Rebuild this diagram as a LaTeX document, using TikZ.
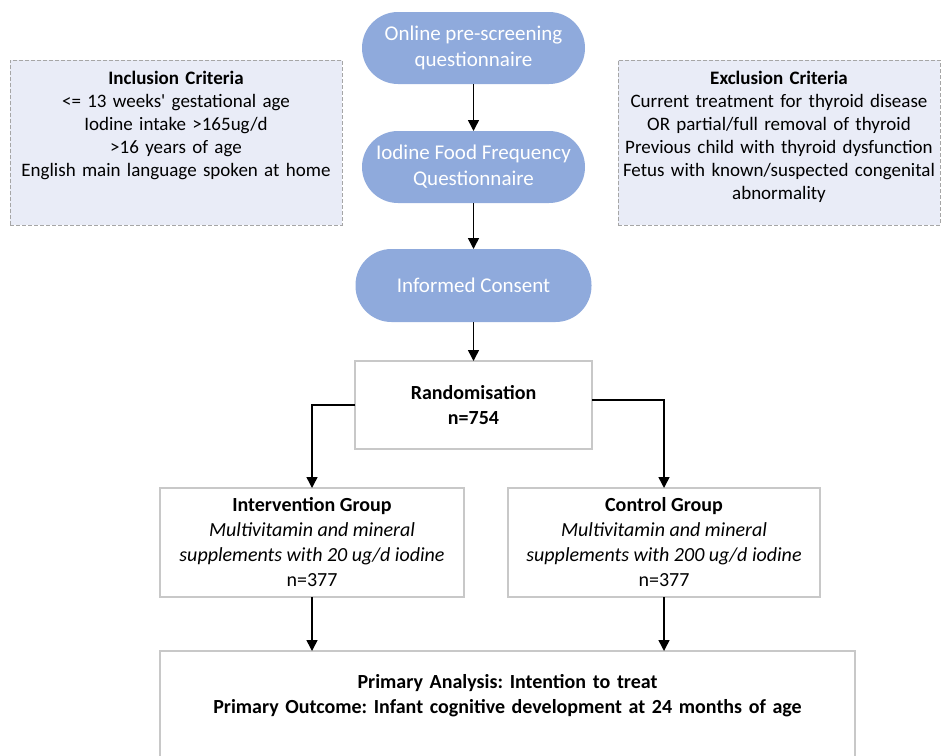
\documentclass[tikz,border=0pt]{standalone}
\usepackage{fontspec}
\setmainfont{Carlito}
\usepackage{xcolor}
\usetikzlibrary{arrows.meta,positioning}
\frenchspacing

\definecolor{pillblue}{HTML}{8FAADC}
\definecolor{critfill}{HTML}{E9ECF7}
\definecolor{critline}{HTML}{A6A6A6}
\definecolor{boxline}{HTML}{C8C8C8}

\begin{document}
\begin{tikzpicture}[
    x=1pt, y=1pt,
    node distance=47pt,
    pill/.style={rectangle, rounded corners=36pt, fill=pillblue, text=white, minimum width=223pt, minimum height=72pt, align=center, inner sep=0pt, outer sep=0pt, font=\fontsize{21}{26}\selectfont},
    crit/.style={rectangle, draw=critline, line width=0.8pt, dash pattern=on 4pt off 2pt, fill=critfill, align=center, anchor=north, inner sep=0pt, outer sep=0pt, text height=24pt, text depth=141pt, font=\fontsize{19}{23}\selectfont},
    block/.style={rectangle, draw=boxline, line width=1.3pt, fill=white, align=center, inner sep=0pt, outer sep=0pt, font=\fontsize{20}{25}\selectfont},
    arrow/.style={line width=1.5pt, -{Triangle[length=11pt, width=11pt]}}
]
    \useasboundingbox (0,0) rectangle (941,-755);

    \node[pill] (online) at (473.5,-48) {Online pre-screening\\questionnaire};
    \node[pill, below=of online] (ffq) {Iodine Food Frequency\\Questionnaire};
    \node[pill, below=46pt of ffq, minimum width=236pt, minimum height=73pt] (consent) {Informed Consent};
    \node[block, below=39pt of consent, minimum width=237pt, minimum height=88pt] (rand) {\textbf{Randomisation}\\\textbf{n=754}};

    \node[block, below left=39pt and -109pt of rand, minimum width=304pt, minimum height=109pt] (interv) {\textbf{Intervention Group}\\\textit{Multivitamin and mineral}\\\textit{supplements with 20 ug/d iodine}\\n=377};
    \node[block, below right=39pt and -84pt of rand, minimum width=312pt, minimum height=109pt] (control) {\textbf{Control Group}\\\textit{Multivitamin and mineral}\\\textit{supplements with 200 ug/d iodine}\\n=377};

    \node[block, below right=54pt and -304pt of interv, text width=695pt, text height=37pt, text depth=110pt] (outcome) {\textbf{Primary Analysis: Intention to treat}\\\textbf{Primary Outcome: Infant cognitive development at 24 months of age}};

    % criteria boxes
    \node[crit, text width=332pt] (incl) at (176,-60) {\textbf{Inclusion Criteria}\\<= 13 weeks\textquotesingle{} gestational age\\Iodine intake >165ug/d\\>16 years of age\\English main language spoken at home};
    \node[crit, text width=322pt] (excl) at (779,-60) {\textbf{Exclusion Criteria}\\Current treatment for thyroid disease\\OR partial/full removal of thyroid\\Previous child with thyroid dysfunction\\Fetus with known/suspected congenital\\abnormality};

    \draw[arrow] (online) -- (ffq);
    \draw[arrow] (ffq) -- (consent);
    \draw[arrow] (consent) -- (rand);
    \draw[arrow] (rand.west) -| (interv.north);
    \draw[arrow] ([yshift=5pt]rand.east) -| (control.north);
    \draw[arrow] (interv) -- (interv |- outcome.north);
    \draw[arrow] (control) -- (control |- outcome.north);
\end{tikzpicture}
\end{document}
